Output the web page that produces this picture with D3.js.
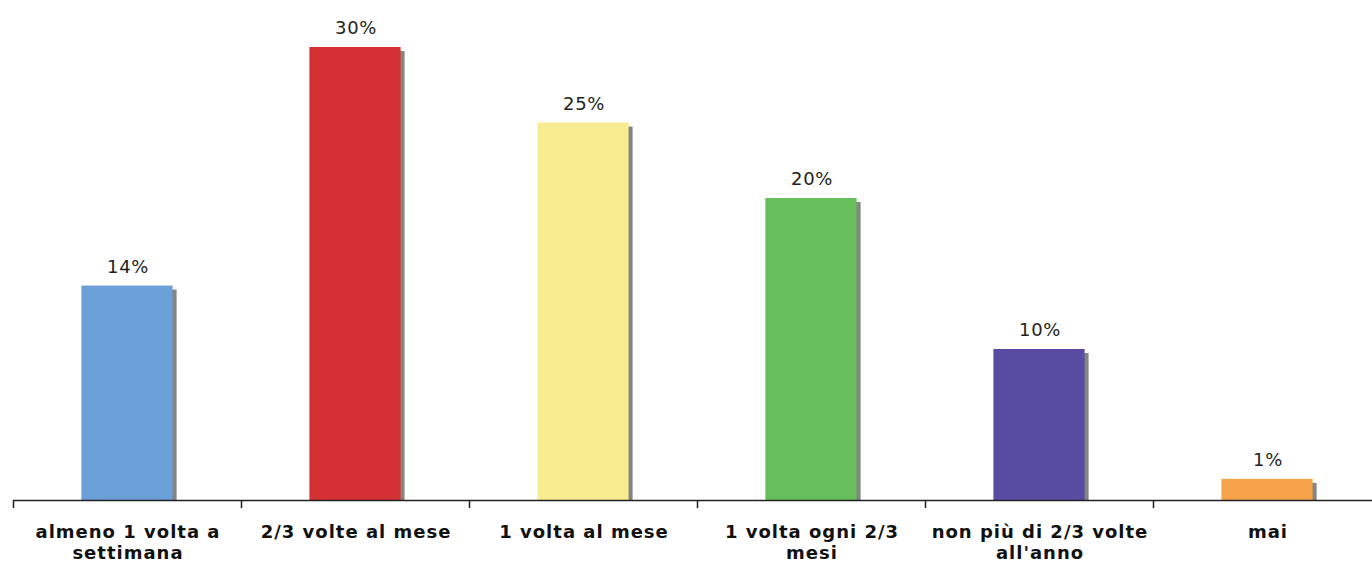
<!DOCTYPE html>
<html>
<head>
<meta charset="utf-8">
<script src="https://cdn.jsdelivr.net/npm/d3@7"></script>
<style>
  body { margin: 0; background: #fff; }
  svg { display: block; }
  .value { font-family: "DejaVu Sans", Verdana, sans-serif; font-size: 18px; fill: #222; letter-spacing: 0.6px; }
  .cat { font-family: "DejaVu Sans", Verdana, sans-serif; font-size: 18px; font-weight: bold; fill: #111; letter-spacing: 1px; }
</style>
</head>
<body>
<div id="chart"></div>
<script>
// categories (line breaks as in the picture)
var categories = ["almeno 1 volta a\nsettimana", "2/3 volte al mese", "1 volta al mese",
                  "1 volta ogni 2/3\nmesi", "non più di 2/3 volte\nall'anno", "mai"];
var values = [14.2, 30, 25, 20, 10, 1.4];
var valueLabels = ["14%", "30%", "25%", "20%", "10%", "1%"];
var colors = ["#6a9fd7", "#d53034", "#f8ec90", "#66bf5b", "#574ca1", "#f5a24b"];

var width = 1372, height = 563;
var axisY = 500;

var svg = d3.select("#chart").append("svg")
    .attr("width", width)
    .attr("height", height);

// set the ranges
var x = d3.scaleBand()
    .domain(categories)
    .range([13, 1381])
    .paddingInner(0.6)
    .paddingOuter(0.3);
var y = d3.scaleLinear().domain([0, 30]).range([axisY, 47]);
// boundary ticks between categories
var xTicks = d3.scaleLinear().domain([0, categories.length]).range([13, 1381]);

var bars = svg.selectAll(".bar")
    .data(values)
    .enter()
    .append("g")
    .attr("class", "bar");

// gray shadow, right and a bit lower
bars.append("rect")
    .attr("x", function(d, i) { return x(categories[i]) + 4; })
    .attr("y", function(d) { return y(d) + 4; })
    .attr("width", x.bandwidth())
    .attr("height", function(d) { return axisY - y(d) - 4; })
    .style("fill", "#858585");

bars.append("rect")
    .attr("x", function(d, i) { return x(categories[i]); })
    .attr("y", function(d) { return y(d); })
    .attr("width", x.bandwidth())
    .attr("height", function(d) { return axisY - y(d); })
    .style("fill", function(d, i) { return colors[i]; });

bars.append("text")
    .attr("class", "value")
    .attr("x", function(d, i) { return x(categories[i]) + x.bandwidth() / 2 + 1; })
    .attr("y", function(d) { return y(d) - 13; })
    .style("text-anchor", "middle")
    .text(function(d, i) { return valueLabels[i]; });

// Add the X Axis
var xAxis = d3.axisBottom(xTicks)
    .tickValues(d3.range(categories.length + 1))
    .tickSize(8)
    .tickSizeOuter(0)
    .tickFormat("");

var axis = svg.append("g")
    .attr("transform", "translate(0," + axisY + ")")
    .call(xAxis);
axis.select(".domain").attr("d", "M13,0.5H" + width).attr("stroke", "#222").attr("stroke-width", 1.5);
axis.selectAll(".tick line").attr("stroke", "#222").attr("stroke-width", 1.5);

// category labels
var catText = svg.selectAll(".cat")
    .data(categories)
    .enter()
    .append("text")
    .attr("class", "cat")
    .attr("x", function(d) { return x(d) + x.bandwidth() / 2 + 1; })
    .attr("y", 538)
    .style("text-anchor", "middle");

catText.selectAll("tspan")
    .data(function(d) { return d.split("\n"); })
    .enter()
    .append("tspan")
    .attr("x", function() { return d3.select(this.parentNode).attr("x"); })
    .attr("dy", function(d, i) { return i === 0 ? 0 : 21; })
    .text(function(d) { return d; });
</script>
</body>
</html>
